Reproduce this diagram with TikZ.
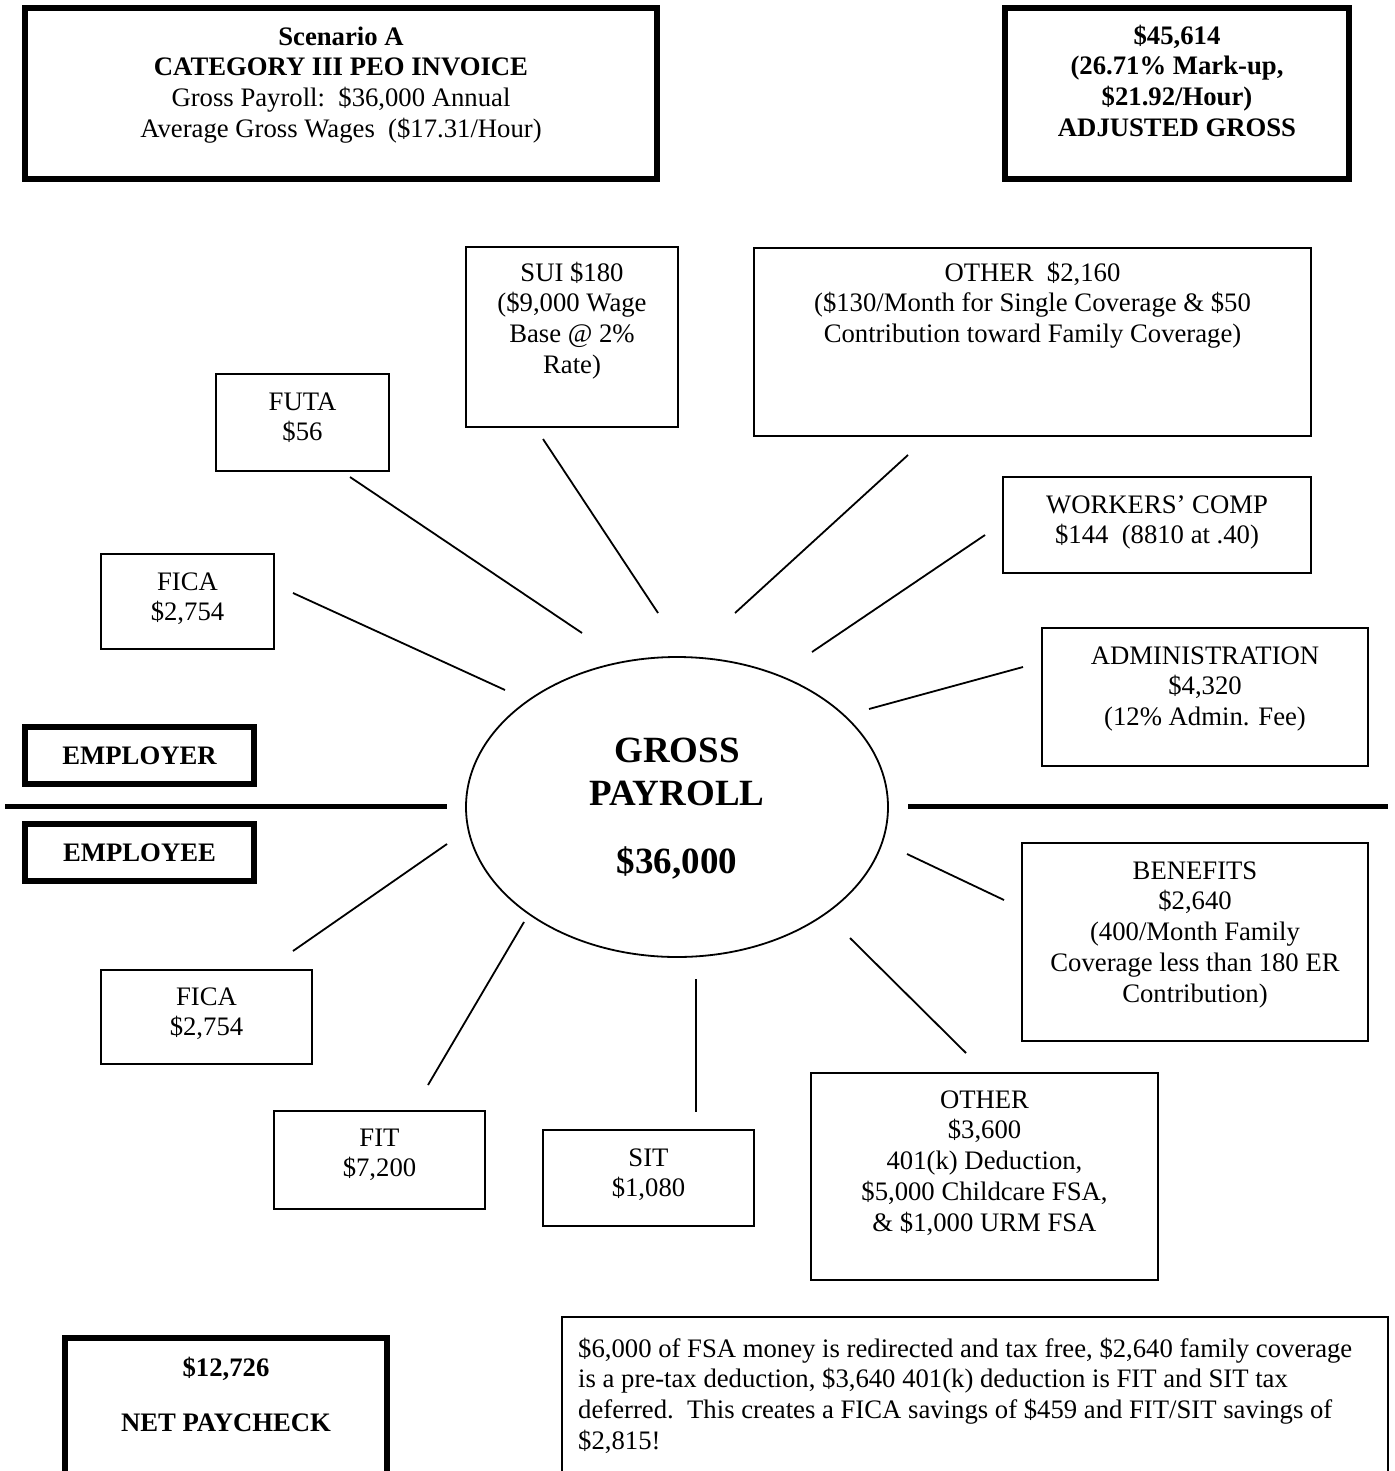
\documentclass[tikz,border=0pt]{standalone}
\usepackage{fontspec}
\setmainfont{Liberation Serif}
\usetikzlibrary{shapes.geometric}

\begin{document}
\begin{tikzpicture}[x=1pt,y=-1pt,
  thinbox/.style={draw, line width=1.8pt, inner sep=0pt},
  thickbox/.style={draw, line width=6pt, inner sep=0pt},
  boxtext/.style={anchor=north, align=center, inner sep=0pt,
    font=\fontsize{26.7}{30.8}\selectfont},
  sidetext/.style={thickbox, font=\fontsize{26.7}{30.8}\selectfont\bfseries},
  spoke/.style={line width=1.8pt},
  divider/.style={line width=5pt},
]
\useasboundingbox (0,0) rectangle (1394,1471);

% ---------- header boxes ----------
\node[thickbox, minimum width=632pt, minimum height=171pt] (invoice) at (341,93.5) {};
\node[boxtext] (invoice-t) at (341,23.3)
  {\strut\textbf{Scenario A}\\
   \textbf{CATEGORY III PEO INVOICE}\\
   Gross Payroll:\ \ \$36,000 Annual\\
   Average Gross Wages\ \ (\$17.31/Hour)};

\node[thickbox, minimum width=344pt, minimum height=171pt] (adjusted) at (1177,93.5) {};
\node[boxtext, font=\fontsize{26.7}{30.8}\selectfont\bfseries] (adjusted-t) at (1177,22.3)
  {\strut\$45,614\\(26.71\% Mark-up,\\\$21.92/Hour)\\ADJUSTED GROSS};

% ---------- employer side ----------
\node[thinbox, minimum width=212pt, minimum height=180pt] (sui) at (572,337) {};
\node[boxtext] (sui-t) at (572,259.3)
  {\strut SUI \$180\\(\$9,000 Wage\\Base @ 2\%\\Rate)};

\node[thinbox, minimum width=557pt, minimum height=188pt] (other1) at (1032.5,342) {};
\node[boxtext] (other1-t) at (1032.5,259.3)
  {\strut OTHER\ \ \$2,160\\(\$130/Month for Single Coverage \& \$50\\Contribution toward Family Coverage)};

\node[thinbox, minimum width=173pt, minimum height=97pt] (futa) at (302.5,422.5) {};
\node[boxtext] (futa-t) at (302.5,388.3) {\strut FUTA\\\$56};

\node[thinbox, minimum width=173pt, minimum height=95pt] (fica1) at (187.5,601.5) {};
\node[boxtext] (fica1-t) at (187.5,568.3) {\strut FICA\\\$2,754};

\node[thinbox, minimum width=308pt, minimum height=96pt] (wc) at (1157,525) {};
\node[boxtext] (wc-t) at (1157,491.3) {\strut WORKERS’ COMP\\\$144\ \ (8810 at .40)};

\node[thinbox, minimum width=326pt, minimum height=138pt] (admin) at (1205,697) {};
\node[boxtext] (admin-t) at (1205,642.3) {\strut ADMINISTRATION\\\$4,320\\(12\% Admin. Fee)};

\node[sidetext, minimum width=229pt, minimum height=57pt] (employer) at (139.5,755.5) {EMPLOYER};

% ---------- dividing line and centre ----------
\coordinate (divL1) at (5,806);
\coordinate (divL2) at (447,806);
\coordinate (divR1) at (908,806);
\coordinate (divR2) at (1388,806);
\draw[divider] (divL1) -- (divL2);
\draw[divider] (divR1) -- (divR2);

\node[draw, ellipse, line width=1.8pt, inner sep=0pt,
      minimum width=422pt, minimum height=300pt] (gross) at (677,807) {};
\node[anchor=north, align=center, inner sep=0pt,
      font=\fontsize{37}{43}\selectfont\bfseries] (gross-t) at (677,731.9)
  {\strut GROSS\\PAYROLL\\[25pt]\$36,000};

% ---------- employee side ----------
\node[sidetext, minimum width=229pt, minimum height=57pt] (employee) at (139.5,852.5) {EMPLOYEE};

\node[thinbox, minimum width=346pt, minimum height=198pt] (benefits) at (1195,942) {};
\node[boxtext] (benefits-t) at (1195,857.3)
  {\strut BENEFITS\\\$2,640\\(400/Month Family\\Coverage less than 180 ER\\Contribution)};

\node[thinbox, minimum width=211pt, minimum height=94pt] (fica2) at (206.5,1017) {};
\node[boxtext] (fica2-t) at (206.5,983.3) {\strut FICA\\\$2,754};

\node[thinbox, minimum width=211pt, minimum height=98pt] (fit) at (379.5,1160) {};
\node[boxtext] (fit-t) at (379.5,1124.3) {\strut FIT\\\$7,200};

\node[thinbox, minimum width=211pt, minimum height=96pt] (sit) at (648.5,1178) {};
\node[boxtext] (sit-t) at (648.5,1144.3) {\strut SIT\\\$1,080};

\node[thinbox, minimum width=347pt, minimum height=207pt] (other2) at (984.5,1176.5) {};
\node[boxtext] (other2-t) at (984.5,1086.3)
  {\strut OTHER\\\$3,600\\401(k) Deduction,\\\$5,000 Childcare FSA,\\\& \$1,000 URM FSA};

% ---------- spokes ----------
\coordinate (s1a) at (293,593);  \coordinate (s1b) at (505,690);
\coordinate (s2a) at (350,477);  \coordinate (s2b) at (582,633);
\coordinate (s3a) at (543,439);  \coordinate (s3b) at (658,613);
\coordinate (s4a) at (908,455);  \coordinate (s4b) at (735,613);
\coordinate (s5a) at (985,535);  \coordinate (s5b) at (812,652);
\coordinate (s6a) at (1023,667); \coordinate (s6b) at (869,709);
\coordinate (s7a) at (907,854);  \coordinate (s7b) at (1004,900);
\coordinate (s8a) at (850,938);  \coordinate (s8b) at (966,1053);
\coordinate (s9a) at (696,979);  \coordinate (s9b) at (696,1112);
\coordinate (s10a) at (524,922); \coordinate (s10b) at (428,1085);
\coordinate (s11a) at (447,844); \coordinate (s11b) at (293,951);
\foreach \i in {1,...,11}{\draw[spoke] (s\i a) -- (s\i b);}

% ---------- bottom ----------
\node[thickbox, minimum width=322pt, minimum height=162pt] (net) at (226,1419) {};
\node[boxtext, font=\fontsize{26.7}{30.8}\selectfont\bfseries] (net-t) at (226,1354.3)
  {\strut\$12,726\\[24.2pt]NET PAYCHECK};

\node[thinbox, minimum width=826pt, minimum height=183pt] (note) at (975,1408.5) {};
\node[anchor=north west, align=left, inner sep=0pt,
      font=\fontsize{26.7}{30.8}\selectfont] (note-t) at (578,1335.3)
  {\strut\$6,000 of FSA money is redirected and tax free, \$2,640 family coverage\\
   is a pre-tax deduction, \$3,640 401(k) deduction is FIT and SIT tax\\
   deferred.\ \ This creates a FICA savings of \$459 and FIT/SIT savings of\\
   \$2,815!};
\end{tikzpicture}
\end{document}
